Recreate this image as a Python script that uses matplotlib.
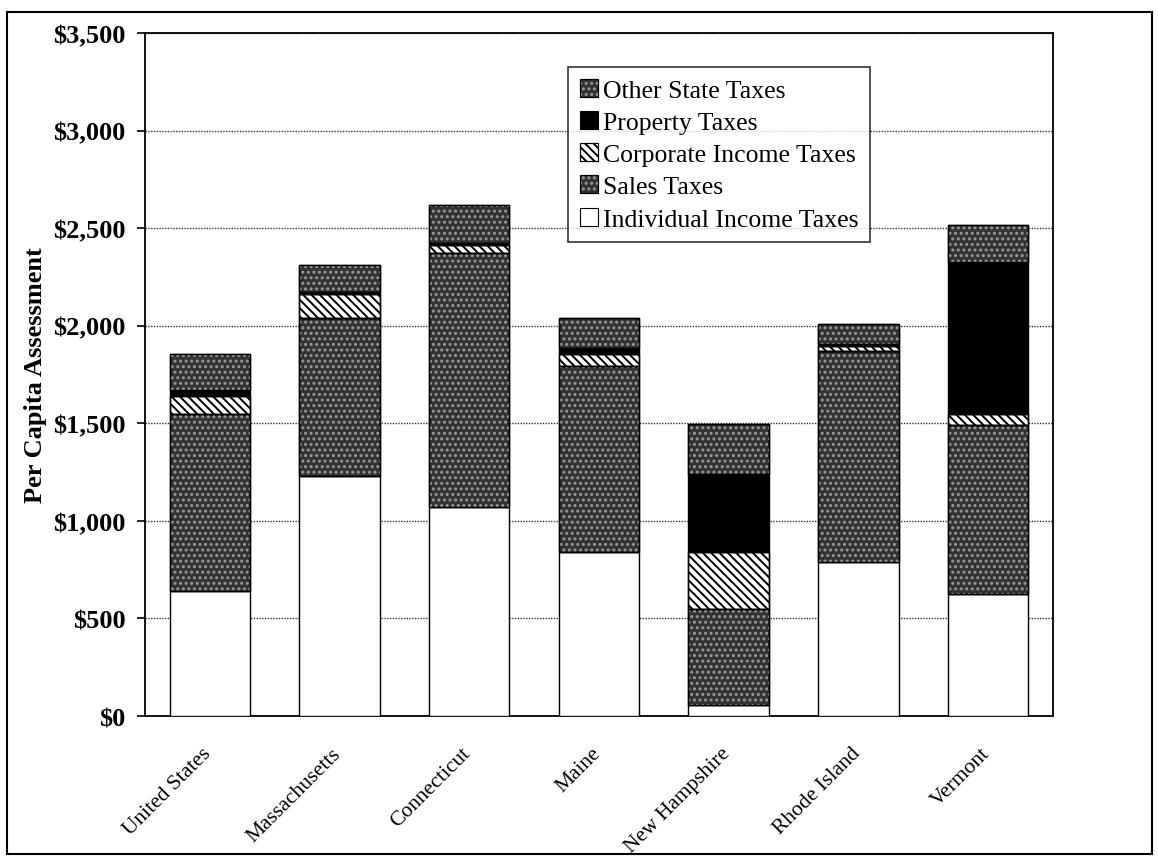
import matplotlib
matplotlib.use("Agg")
import matplotlib.pyplot as plt
import matplotlib.transforms as mtransforms
from matplotlib.patches import Patch, Rectangle
from matplotlib.legend_handler import HandlerTuple
from matplotlib.ticker import FuncFormatter, MultipleLocator

# Per capita state tax assessment by category (dollars)
categories = ["United States", "Massachusetts", "Connecticut", "Maine",
              "New Hampshire", "Rhode Island", "Vermont"]
individual_income = [641, 1230, 1072, 842, 55, 787, 625]
sales_taxes = [905, 811, 1302, 952, 493, 1083, 865]
corporate_income = [94, 123, 41, 60, 293, 26, 56]
property_taxes = [29, 8, 10, 34, 398, 8, 779]
other_state = [184, 137, 195, 150, 256, 103, 189]

plt.rcParams["font.family"] = ["Liberation Serif", "DejaVu Serif"]
plt.rcParams["hatch.linewidth"] = 1.4

fig = plt.figure(figsize=(11.58, 8.62), dpi=100)
ax = fig.add_axes([0.1252, 0.1682, 0.9093 - 0.1252, 0.9606 - 0.1682])

x = list(range(len(categories)))
width = 0.62

# (label, values, face colour, hatch, hatch colour)
layers = [
    ("Individual Income Taxes", individual_income, "white", None, None),
    ("Sales Taxes", sales_taxes, "#333333", "...", "#9a9a9a"),
    ("Corporate Income Taxes", corporate_income, "white", "\\\\\\\\", "black"),
    ("Property Taxes", property_taxes, "black", None, None),
    ("Other State Taxes", other_state, "#333333", "...", "#9a9a9a"),
]

bottom = [0] * len(categories)
handles = {}
for label, vals, face, hatch, hcol in layers:
    ax.bar(x, vals, width, bottom=bottom, color=face, edgecolor="black",
           linewidth=1.0, zorder=3)
    parts = [Patch(facecolor=face, edgecolor="black", linewidth=0.8)]
    if hatch:
        ax.bar(x, vals, width, bottom=bottom, fill=False, hatch=hatch,
               edgecolor=hcol, linewidth=0, zorder=4)
        ax.bar(x, vals, width, bottom=bottom, fill=False, edgecolor="black",
               linewidth=1.0, zorder=5)
        parts.append(Patch(fill=False, hatch=hatch, edgecolor=hcol, linewidth=0))
        parts.append(Patch(fill=False, edgecolor="black", linewidth=0.8))
    handles[label] = tuple(parts)
    bottom = [b + v for b, v in zip(bottom, vals)]

ax.set_xlim(-0.5, len(categories) - 0.5)
ax.set_ylim(0, 3500)
ax.yaxis.set_major_locator(MultipleLocator(500))
ax.yaxis.set_major_formatter(FuncFormatter(lambda v, p: f"${v:,.0f}"))
ax.grid(axis="y", linestyle=(0, (1, 1)), color="#333333", linewidth=1.0, zorder=0)

for s in ax.spines.values():
    s.set_linewidth(1.3)
    s.set_color("black")

ax.tick_params(axis="y", direction="out", length=6, width=1.2, pad=8,
               labelsize=19)
for t in ax.get_yticklabels():
    t.set_fontweight("bold")

ax.set_xticks(x)
ax.set_xticklabels(categories, rotation=45, ha="right", rotation_mode="anchor",
                   fontsize=15.5)
ax.tick_params(axis="x", length=0, pad=20)
shift = mtransforms.ScaledTranslation(-8 / 100, 0, fig.dpi_scale_trans)
for t in ax.get_xticklabels():
    t.set_transform(t.get_transform() + shift)

ax.set_ylabel("Per Capita Assessment", fontsize=19, fontweight="bold", labelpad=4)

order = ["Other State Taxes", "Property Taxes", "Corporate Income Taxes",
         "Sales Taxes", "Individual Income Taxes"]
leg = ax.legend([handles[k] for k in order], order,
                handler_map={tuple: HandlerTuple(ndivide=1, pad=0)},
                loc="upper left", bbox_to_anchor=(0.466, 0.950),
                borderaxespad=0, fontsize=18.5, frameon=True, fancybox=False,
                handlelength=0.7, handleheight=0.7, handletextpad=0.2,
                labelspacing=0.36, borderpad=0.45)
leg.get_frame().set_edgecolor("black")
leg.get_frame().set_linewidth(1.2)
leg.set_zorder(10)

# Frame round the whole figure
fig.patches.append(Rectangle((7 / 1158, 7 / 862), 1145 / 1158, 842 / 862,
                             transform=fig.transFigure, fill=False,
                             edgecolor="black", linewidth=1.5))

fig.savefig("out.png", dpi=100)
